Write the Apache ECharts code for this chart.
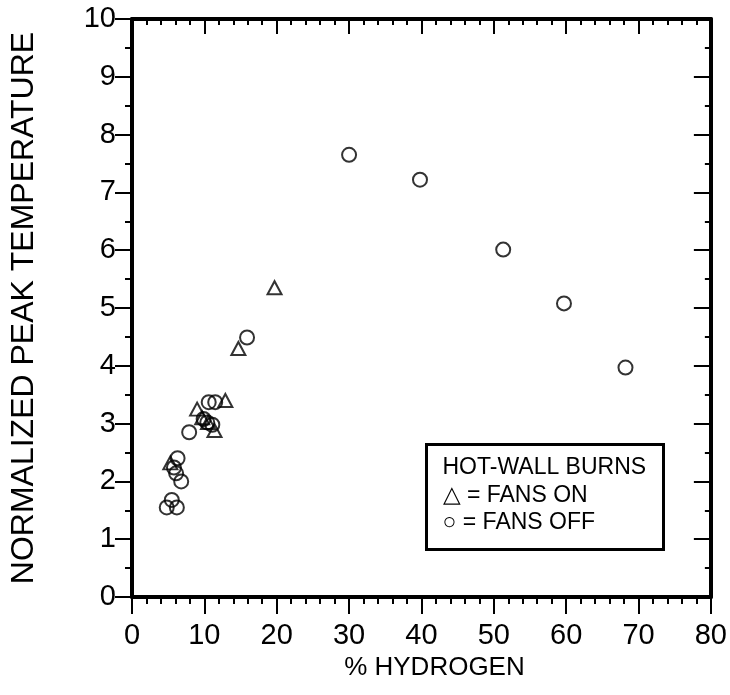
<!DOCTYPE html>
<html>
<head>
<meta charset="utf-8">
<script src="https://cdn.jsdelivr.net/npm/echarts@6/dist/echarts.min.js"></script>
<style>html,body{margin:0;padding:0;background:#fff}#c{width:730px;height:695px}</style>
</head>
<body>
<div id="c"></div>
<script>
var xTitle = '% HYDROGEN';
var yTitle = 'NORMALIZED PEAK TEMPERATURE';
var legendTitle = 'HOT-WALL BURNS';
var seriesNames = ['FANS ON', 'FANS OFF'];
var fansOn = [[19.7,5.35],[14.7,4.3],[12.9,3.40],[9.0,3.25],[11.4,2.88],[10.5,3.02],[9.7,3.10],[5.3,2.32]];
var fansOff = [[30.0,7.65],[39.8,7.22],[51.3,6.01],[59.7,5.08],[68.2,3.97],[15.9,4.49],
  [10.6,3.37],[11.5,3.37],[7.9,2.85],[9.9,3.08],[10.4,3.02],[11.1,2.98],
  [6.3,2.40],[5.8,2.24],[6.1,2.14],[6.8,2.0],
  [4.8,1.55],[5.5,1.68],[6.2,1.55]];

var FONT = 'Liberation Sans';
var chart = echarts.init(document.getElementById('c'));
var axLine = {show:true, onZero:false, lineStyle:{color:'#000', width:4}};
var hollow = {color:'rgba(0,0,0,0)', borderColor:'#000', borderWidth:2};
chart.setOption({
  animation:false,
  backgroundColor:'#fff',
  grid:{left:131, right:19, top:19, bottom:98, containLabel:false},
  xAxis:[{
    type:'value', min:0, max:80, interval:10, position:'bottom',
    axisLine:axLine,
    axisTick:{show:true, inside:false, length:17, lineStyle:{color:'#000', width:2}},
    minorTick:{show:true, splitNumber:5, length:7, lineStyle:{color:'#000', width:2}},
    splitLine:{show:false},
    axisLabel:{show:true, margin:24, fontFamily:FONT, fontSize:29, color:'#000'},
    name:xTitle, nameLocation:'middle', nameGap:57,
    nameTextStyle:{fontFamily:FONT, fontSize:26, color:'#000', padding:[0,0,0,26]}
  },{
    type:'value', min:0, max:80, interval:10, position:'top',
    axisLine:axLine,
    axisTick:{show:true, inside:true, length:15, lineStyle:{color:'#000', width:2}},
    minorTick:{show:true, splitNumber:5, length:6, lineStyle:{color:'#000', width:2}},
    splitLine:{show:false}, axisLabel:{show:false}
  }],
  yAxis:[{
    type:'value', min:0, max:10, interval:1, position:'left',
    axisLine:axLine,
    axisTick:{show:true, inside:false, length:17, lineStyle:{color:'#000', width:2}},
    minorTick:{show:true, splitNumber:2, length:7, lineStyle:{color:'#000', width:2}},
    splitLine:{show:false},
    axisLabel:{show:true, margin:16, fontFamily:FONT, fontSize:29, color:'#000'},
    name:yTitle, nameLocation:'middle', nameGap:92, nameRotate:90,
    nameTextStyle:{fontFamily:FONT, fontSize:32, color:'#000'}
  },{
    type:'value', min:0, max:10, interval:1, position:'right',
    axisLine:axLine,
    axisTick:{show:true, inside:true, length:17, lineStyle:{color:'#000', width:2}},
    minorTick:{show:true, splitNumber:2, length:6, lineStyle:{color:'#000', width:2}},
    splitLine:{show:false}, axisLabel:{show:false}
  }],
  series:[{
    name:seriesNames[0], type:'scatter', xAxisIndex:0, yAxisIndex:0,
    symbol:'triangle', symbolSize:[14,13], itemStyle:hollow, data:fansOn
  },{
    name:seriesNames[1], type:'scatter', xAxisIndex:0, yAxisIndex:0,
    symbol:'circle', symbolSize:14, itemStyle:hollow, data:fansOff
  },{
    name:'frame', type:'scatter', xAxisIndex:1, yAxisIndex:1, data:[], silent:true
  }],
  graphic:[{
    type:'group', left:425, top:443,
    children:[
      {type:'rect', shape:{x:0,y:0,width:237,height:105}, style:{fill:'#fff', stroke:'#000', lineWidth:3}},
      {type:'text', x:16, y:12, style:{text:legendTitle, font:'23px "Liberation Sans"', fill:'#000'}},
      {type:'text', x:16, y:40, style:{text:'\u25B3 = ' + seriesNames[0], font:'23px "Liberation Sans"', fill:'#000'}},
      {type:'text', x:16, y:67, style:{text:'\u25CB = ' + seriesNames[1], font:'23px "Liberation Sans"', fill:'#000'}}
    ]
  }]
});
</script>
</body>
</html>
